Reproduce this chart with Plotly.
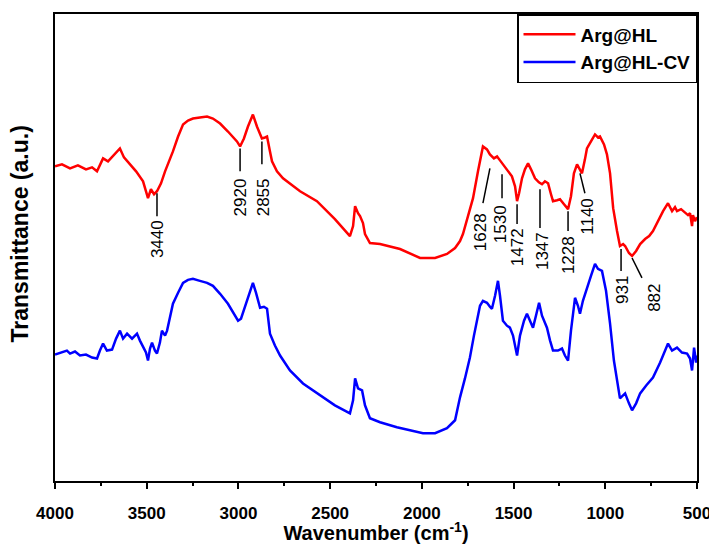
import plotly.graph_objects as go

# ---------------- data ----------------
red_wn = [4000, 3962, 3918, 3875, 3831, 3798, 3771, 3738, 3711, 3678, 3646, 3624, 3591, 3558,
          3520, 3504, 3493, 3477, 3460, 3444, 3422, 3400, 3378, 3357, 3329, 3302, 3275, 3248,
          3210, 3171, 3139, 3100, 3057, 3008, 2991, 2970, 2948, 2921, 2899, 2872, 2855, 2844,
          2828, 2817, 2790, 2757, 2664, 2572, 2474, 2392, 2375, 2364, 2348, 2337, 2321, 2310,
          2283, 2228, 2119, 2010, 1928, 1863, 1819, 1792, 1776, 1748, 1721, 1694, 1667, 1645,
          1629, 1607, 1590, 1574, 1558, 1530, 1509, 1492, 1481, 1470, 1454, 1438, 1421, 1405,
          1383, 1362, 1345, 1329, 1312, 1296, 1285, 1263, 1247, 1225, 1203, 1187, 1171, 1154,
          1138, 1127, 1111, 1100, 1078, 1056, 1040, 1029, 1007, 991, 974, 957, 936, 920, 903,
          892, 871, 854, 832, 810, 783, 761, 740, 712, 685, 658, 636, 620, 609, 587, 565, 549,
          538, 527, 522, 511, 500]
red_t = [316, 318, 314, 317, 313, 315, 311, 324, 321, 328, 334, 325, 318, 311,
         301, 291, 284, 293, 288, 291, 299, 311, 321, 331, 346, 358, 362, 364,
         365, 366, 364, 359, 351, 341, 336, 344, 356, 368, 356, 344, 345, 346,
         331, 321, 311, 304, 291, 281, 263, 246, 256, 276, 269, 266, 259, 248,
         239, 238, 233, 224, 224, 228, 234, 241, 248, 266, 284, 311, 336, 333,
         328, 324, 326, 322, 318, 311, 306, 296, 281, 289, 304, 313, 319, 313,
         304, 300, 298, 301, 299, 288, 281, 282, 283, 278, 273, 286, 309, 318,
         313, 309, 323, 334, 341, 348, 345, 346, 338, 328, 309, 274, 251, 236, 238,
         236, 229, 226, 231, 238, 243, 246, 251, 261, 271, 279, 271, 275, 271, 273, 269, 267,
         269, 256, 267, 261, 265]

blue_wn = [4000, 3962, 3935, 3918, 3891, 3864, 3831, 3798, 3771, 3755, 3738, 3717, 3689, 3667,
           3646, 3629, 3607, 3580, 3553, 3537, 3520, 3504, 3493, 3482, 3471, 3455, 3444, 3428,
           3417, 3400, 3389, 3373, 3357, 3329, 3302, 3275, 3248, 3210, 3171, 3139, 3100, 3057,
           3019, 3002, 2986, 2964, 2942, 2921, 2904, 2882, 2861, 2844, 2828, 2801, 2773, 2719,
           2648, 2555, 2474, 2392, 2375, 2364, 2348, 2326, 2310, 2283, 2228, 2136, 2065, 1994,
           1928, 1863, 1819, 1792, 1765, 1738, 1716, 1700, 1683, 1667, 1645, 1629, 1618, 1601,
           1585, 1574, 1558, 1536, 1520, 1503, 1481, 1465, 1443, 1427, 1410, 1394, 1378, 1361,
           1345, 1318, 1301, 1285, 1258, 1236, 1220, 1203, 1187, 1165, 1149, 1138, 1122, 1094,
           1078, 1056, 1040, 1018, 996, 974, 953, 920, 892, 871, 854, 832, 810, 777, 740, 701,
           658, 636, 609, 582, 554, 538, 527, 516, 505, 500]
blue_t = [127, 129, 131, 128, 130, 126, 127, 124, 123, 131, 138, 131, 132, 143,
          151, 143, 148, 143, 148, 141, 134, 129, 121, 133, 139, 131, 128, 139,
          151, 146, 151, 166, 178, 189, 199, 202, 203, 201, 199, 196, 188, 178,
          166, 161, 163, 176, 189, 199, 189, 174, 175, 173, 148, 136, 126, 111,
          98, 86, 76, 68, 81, 103, 93, 91, 76, 63, 59, 54, 51, 48,
          48, 53, 61, 84, 103, 124, 146, 161, 176, 181, 179, 175, 173, 186,
          201, 186, 161, 156, 154, 146, 126, 146, 161, 168, 161, 154, 166, 179,
          166, 154, 141, 131, 131, 133, 126, 121, 151, 184, 176, 168, 181, 198,
          206, 218, 213, 211, 191, 158, 121, 83, 88, 78, 71, 78, 88, 96, 104, 119,
          138, 131, 134, 129, 128, 123, 111, 134, 119, 126]

series_names = ["Arg@HL", "Arg@HL-CV"]
series_colors = ["#ff0000", "#0000ff"]

# peak labels on the red spectrum: label, line start (x, y), line end (x, y), label (x, top y)
peak_labels = ["3440", "2920", "2855", "1628", "1530", "1472", "1347", "1228", "1140", "931", "882"]
peak_line_x0 = [3444, 2991, 2872, 1629, 1563, 1481, 1356, 1203, 1138, 914, 854]
peak_line_y0 = [289, 334, 341, 314, 308, 278, 293, 271, 309, 233, 224]
peak_line_x1 = [3444, 2991, 2872, 1667, 1563, 1481, 1356, 1203, 1111, 914, 800]
peak_line_y1 = [266, 311, 318, 279, 284, 258, 254, 251, 289, 211, 204]
peak_text_x = [3444, 2991, 2866, 1683, 1574, 1481, 1345, 1203, 1094, 903, 729]
peak_text_y = [264, 306, 306, 271, 279, 256, 252, 248, 286, 208, 200]

x_ticks = [4000, 3500, 3000, 2500, 2000, 1500, 1000, 500]

FONT = "Arial, Liberation Sans, sans-serif"

fig = go.Figure()
fig.add_trace(go.Scatter(x=red_wn, y=red_t, mode="lines", name=series_names[0],
                         line=dict(color=series_colors[0], width=2.5)))
fig.add_trace(go.Scatter(x=blue_wn, y=blue_t, mode="lines", name=series_names[1],
                         line=dict(color=series_colors[1], width=2.5)))

for i, lab in enumerate(peak_labels):
    fig.add_shape(type="line", xref="x", yref="y",
                  x0=peak_line_x0[i], y0=peak_line_y0[i], x1=peak_line_x1[i], y1=peak_line_y1[i],
                  line=dict(color="black", width=1.5))
    fig.add_annotation(x=peak_text_x[i], y=peak_text_y[i], xref="x", yref="y",
                       text=lab, showarrow=False, textangle=-90,
                       xanchor="center", yanchor="top",
                       font=dict(family=FONT, size=17, color="black"))

# y axis title
fig.add_annotation(x=-0.053, y=0.53, xref="paper", yref="paper",
                   text="<b>Transmittance (a.u.)</b>", showarrow=False, textangle=-90,
                   xanchor="center", yanchor="middle",
                   font=dict(family=FONT, size=23, color="black"))

fig.update_layout(
    width=709, height=536,
    margin=dict(l=47, r=20, t=4, b=63),
    paper_bgcolor="white", plot_bgcolor="white",
    showlegend=True,
    legend=dict(x=1, y=1, xanchor="right", yanchor="top",
                bgcolor="white", bordercolor="black", borderwidth=1.5,
                font=dict(family=FONT, size=19, color="black", weight="bold"),
                itemwidth=52, tracegroupgap=0),
    font=dict(family=FONT, color="black"),
)

fig.update_xaxes(range=[4000, 500], tickvals=x_ticks,
                 ticks="outside", ticklen=6, tickwidth=2, tickcolor="black",
                 ticklabelstandoff=10,
                 minor=dict(ticks="outside", ticklen=3, tickwidth=1.5, tickcolor="black", dtick=250),
                 showline=True, linecolor="black", linewidth=2, mirror=True,
                 showgrid=False, zeroline=False,
                 tickfont=dict(family=FONT, size=17, color="black", weight="bold"),
                 title=dict(text="<b>Wavenumber (cm<sup>-1</sup>)</b>",
                            font=dict(family=FONT, size=20, color="black"), standoff=2))
fig.update_yaxes(range=[0, 469], showticklabels=False, ticks="",
                 showline=True, linecolor="black", linewidth=2, mirror=True,
                 showgrid=False, zeroline=False)

fig.write_html("out.html")
